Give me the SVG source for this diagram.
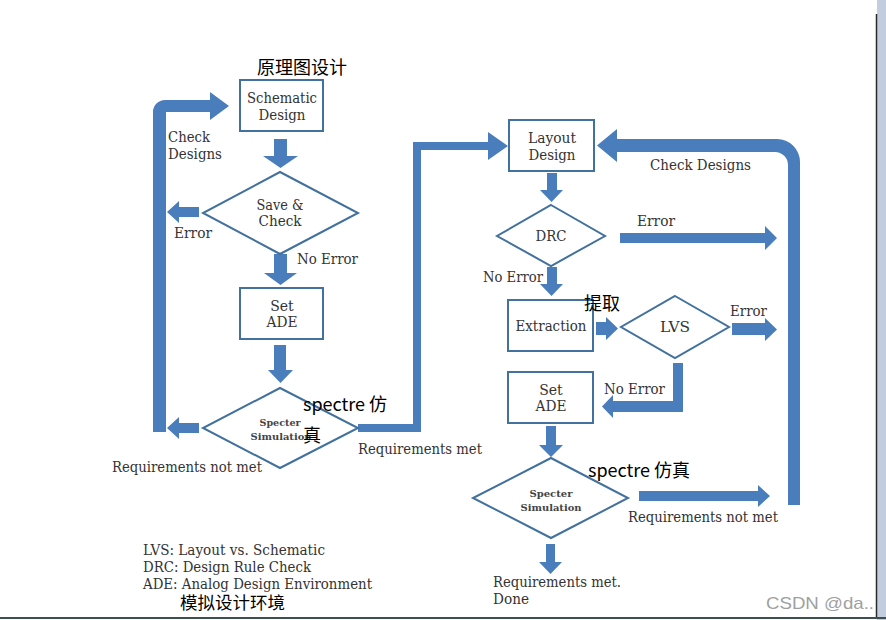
<svg xmlns="http://www.w3.org/2000/svg" width="886" height="620" viewBox="0 0 886 620">
<style>
.box{fill:#fff;stroke:#41719c;stroke-width:2}
.arr{fill:#4a7dbb}
.t{font-family:"DejaVu Serif","Liberation Serif",serif;font-size:14px;fill:#333}
.tc{font-family:"DejaVu Serif","Liberation Serif",serif;font-size:14px;fill:#333;text-anchor:middle}
.ts{font-family:"DejaVu Serif","Liberation Serif",serif;font-size:10px;font-weight:bold;fill:#444;text-anchor:middle}
.zh{font-family:"Noto Sans CJK SC",sans-serif;font-size:18px;fill:#000}
.wm{font-family:"Liberation Sans",Arial,sans-serif;font-size:17px;fill:#a0a0a0}
</style>
<rect width="886" height="620" fill="#fff"/>
<rect x="877" y="0" width="9" height="620" fill="#c3cde0"/>
<line x1="876.5" y1="14" x2="876.5" y2="617" stroke="#2a2a2a" stroke-width="1.5"/>
<rect x="0" y="617" width="886" height="2" fill="#3e4f4f"/>

<g id="connectors">
<path class="arr" d="M274,139 H287 V156 H298 L280.5,168 L263,156 H274 Z"/>
<path class="arr" d="M199,207 V217 H179 V223 L167,212 L179,201 V207 Z"/>
<path class="arr" d="M274,254 H287 V273 H297 L280.5,285 L264,273 H274 Z"/>
<path class="arr" d="M274,345 H286 V370 H293 L280.5,383 L268,370 H274 Z"/>
<path class="arr" d="M199,423 V433 H179 V439 L167,428 L179,417 V423 Z"/>
<path class="arr" d="M153,432 V112 A12,12 0 0 1 165,100 H210 V92 L229,106 L210,120 V112 H166 V432 Z"/>
<path class="arr" d="M358,424 H413 V142 H488 V132 L508,146 L488,160 V150 H421 V432 H358 Z"/>
<path class="arr" d="M547,173 H557 V190 H563 L551.5,202 L540,190 H547 Z"/>
<path class="arr" d="M620,233 H765 V226 L777,238 L765,250 V243 H620 Z"/>
<path class="arr" d="M547,267 H557 V284 H563 L551.5,296 L540,284 H547 Z"/>
<path class="arr" d="M788,505 V165 A13,13 0 0 0 775,152 H617 V162 L597,145.5 L617,129 V139 H777 A23,23 0 0 1 800,162 V505 Z"/>
<path class="arr" d="M596,322 H606 V317 L618,328.5 L606,340 V335 H596 Z"/>
<path class="arr" d="M732,323 H765 V318 L777,329.5 L765,341 V335 H732 Z"/>
<path class="arr" d="M673,363 H683 V412 H613 V418 L602,406.5 L613,395 V401 H673 Z"/>
<path class="arr" d="M546,426 H556 V445 H563 L551,457 L539,445 H546 Z"/>
<path class="arr" d="M639,491 H758 V485 L770,496 L758,507 V501 H639 Z"/>
<path class="arr" d="M546,544 H555 V562 H562 L550.5,574 L539,562 H546 Z"/>
</g>

<g id="schematic">
<rect class="box" x="240" y="80" width="83" height="51"/>
<text class="tc" x="282" y="103" textLength="70" lengthAdjust="spacingAndGlyphs">Schematic</text>
<text class="tc" x="282" y="120" textLength="47" lengthAdjust="spacingAndGlyphs">Design</text>
</g>
<g id="savecheck">
<polygon class="box" points="280,172 358,213 280,254 203,213"/>
<text class="tc" x="280" y="210" textLength="47" lengthAdjust="spacingAndGlyphs">Save &amp;</text>
<text class="tc" x="280" y="226" textLength="43" lengthAdjust="spacingAndGlyphs">Check</text>
</g>
<g id="setade1">
<rect class="box" x="240" y="288" width="83" height="51"/>
<text class="tc" x="282" y="311">Set</text>
<text class="tc" x="282" y="327" textLength="31" lengthAdjust="spacingAndGlyphs">ADE</text>
</g>
<g id="specter1">
<polygon class="box" points="280,388 358,428 280,468 203,428"/>
<text class="ts" x="280" y="426" textLength="41" lengthAdjust="spacingAndGlyphs">Specter</text>
<text class="ts" x="281" y="440" textLength="61" lengthAdjust="spacingAndGlyphs">Simulation</text>
</g>
<g id="layout">
<rect class="box" x="509" y="120" width="85" height="51"/>
<text class="tc" x="552" y="143" textLength="48" lengthAdjust="spacingAndGlyphs">Layout</text>
<text class="tc" x="552" y="160" textLength="47" lengthAdjust="spacingAndGlyphs">Design</text>
</g>
<g id="drc">
<polygon class="box" points="551,205 605,236 551,266 497,236"/>
<text class="tc" x="551" y="241" textLength="31" lengthAdjust="spacingAndGlyphs">DRC</text>
</g>
<g id="extraction">
<rect class="box" x="508" y="300" width="85" height="51"/>
<text class="tc" x="551" y="331" textLength="71" lengthAdjust="spacingAndGlyphs">Extraction</text>
</g>
<g id="lvs">
<polygon class="box" points="675,296 729,327 675,358 621,327"/>
<text class="tc" x="675" y="332" textLength="30" lengthAdjust="spacingAndGlyphs">LVS</text>
</g>
<g id="setade2">
<rect class="box" x="508" y="372" width="85" height="51"/>
<text class="tc" x="551" y="395">Set</text>
<text class="tc" x="551" y="411" textLength="31" lengthAdjust="spacingAndGlyphs">ADE</text>
</g>
<g id="specter2">
<polygon class="box" points="551,458 628,498 551,538 473,498"/>
<text class="ts" x="551" y="497" textLength="43" lengthAdjust="spacingAndGlyphs">Specter</text>
<text class="ts" x="551" y="511" textLength="61" lengthAdjust="spacingAndGlyphs">Simulation</text>
</g>

<g id="labels">
<text class="t" x="168" y="142" textLength="42" lengthAdjust="spacingAndGlyphs">Check</text>
<text class="t" x="168" y="159" textLength="54" lengthAdjust="spacingAndGlyphs">Designs</text>
<text class="t" x="174" y="238" textLength="38" lengthAdjust="spacingAndGlyphs">Error</text>
<text class="t" x="297" y="264" textLength="61" lengthAdjust="spacingAndGlyphs">No Error</text>
<text class="t" x="112" y="472" textLength="150" lengthAdjust="spacingAndGlyphs">Requirements not met</text>
<text class="t" x="358" y="454" textLength="124" lengthAdjust="spacingAndGlyphs">Requirements met</text>
<text class="t" x="650" y="170" textLength="101" lengthAdjust="spacingAndGlyphs">Check Designs</text>
<text class="t" x="637" y="226" textLength="38" lengthAdjust="spacingAndGlyphs">Error</text>
<text class="t" x="483" y="282" textLength="60" lengthAdjust="spacingAndGlyphs">No Error</text>
<text class="t" x="730" y="316" textLength="37" lengthAdjust="spacingAndGlyphs">Error</text>
<text class="t" x="604" y="394" textLength="61" lengthAdjust="spacingAndGlyphs">No Error</text>
<text class="t" x="628" y="522" textLength="150" lengthAdjust="spacingAndGlyphs">Requirements not met</text>
<text class="t" x="493" y="587" textLength="128" lengthAdjust="spacingAndGlyphs">Requirements met.</text>
<text class="t" x="493" y="604" textLength="36" lengthAdjust="spacingAndGlyphs">Done</text>
<text class="t" x="143" y="555" textLength="182" lengthAdjust="spacingAndGlyphs">LVS: Layout vs. Schematic</text>
<text class="t" x="143" y="572" textLength="168" lengthAdjust="spacingAndGlyphs">DRC: Design Rule Check</text>
<text class="t" x="143" y="589" textLength="229" lengthAdjust="spacingAndGlyphs">ADE: Analog Design Environment</text>
<text class="zh" x="257" y="74">原理图设计</text>
<text class="zh" x="303" y="411">spectre 仿</text>
<text class="zh" x="303" y="442">真</text>
<text class="zh" x="584" y="310">提取</text>
<text class="zh" x="588" y="477">spectre 仿真</text>
<text class="zh" x="180" y="609" style="font-size:17.5px">模拟设计环境</text>
<text class="wm" x="766" y="609" textLength="108" lengthAdjust="spacingAndGlyphs">CSDN @da..</text>
</g>
</svg>
